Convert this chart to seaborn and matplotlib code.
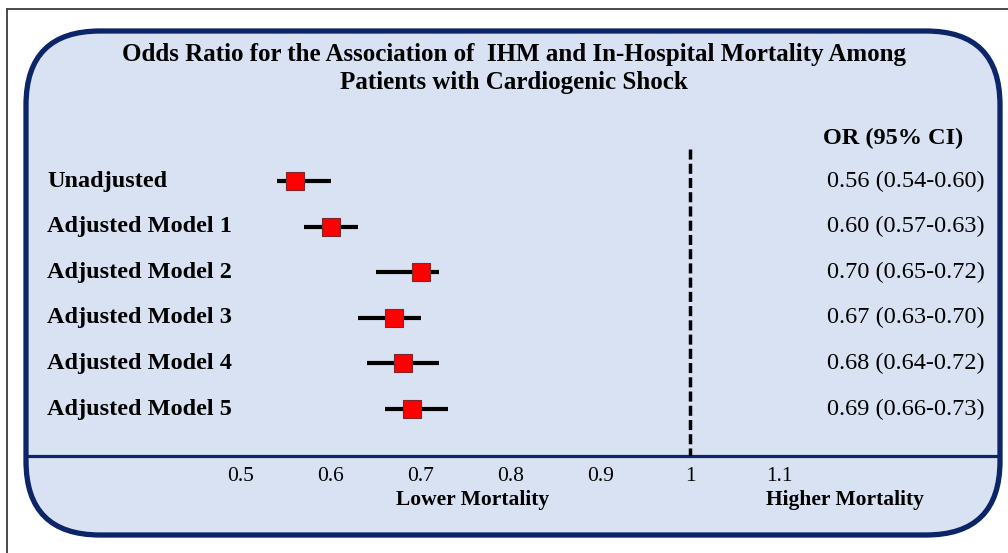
import numpy as np
import pandas as pd
import matplotlib
matplotlib.use("Agg")
import matplotlib.pyplot as plt
import matplotlib.transforms as mtransforms
from matplotlib.patches import FancyBboxPatch
import seaborn as sns

# data
models = ['Unadjusted', 'Adjusted Model 1', 'Adjusted Model 2',
          'Adjusted Model 3', 'Adjusted Model 4', 'Adjusted Model 5']
odds_ratio = [0.56, 0.60, 0.70, 0.67, 0.68, 0.69]
ci_low = [0.54, 0.57, 0.65, 0.63, 0.64, 0.66]
ci_high = [0.60, 0.63, 0.72, 0.70, 0.72, 0.73]
xticks = [0.5, 0.6, 0.7, 0.8, 0.9, 1.0, 1.1]
xtick_labels = ['0.5', '0.6', '0.7', '0.8', '0.9', '1', '1.1']
title_lines = ['Odds Ratio for the Association of  IHM and In-Hospital Mortality Among',
               'Patients with Cardiogenic Shock']

sns.set_style("white")
plt.rcParams['font.family'] = ['Liberation Serif', 'DejaVu Serif']
plt.rcParams['text.color'] = 'black'
plt.rcParams['xtick.color'] = 'black'

W, H = 1008, 553
fig = plt.figure(figsize=(W / 100, H / 100), dpi=100)
fig.patch.set_facecolor('white')

NAVY = '#0c2468'
FILL = '#d9e2f3'

# background axes in pixel units
bg = fig.add_axes([0, 0, 1, 1])
bg.set_xlim(0, W)
bg.set_ylim(H, 0)
bg.axis('off')
bg.plot([7, 7], [9, H], color='#3c3c3c', lw=1.3)
bg.plot([7, W], [9, 9], color='#3c3c3c', lw=1.3)
box = FancyBboxPatch((26, 31), 974, 504, boxstyle="round,pad=0,rounding_size=74",
                     facecolor=FILL, edgecolor=NAVY, lw=3.8)
bg.add_patch(box)
bg.plot([28, 998], [456, 456], color=NAVY, lw=2.3)

for i, line in enumerate(title_lines):
    bg.text(514, 54 + i * 29, line, ha='center', va='center',
            fontsize=18, fontweight='bold')
bg.text(893, 138, 'OR (95% CI)', ha='center', va='center',
        fontsize=17.5, fontweight='bold')
bg.text(473, 500, 'Lower Mortality', ha='center', va='center',
        fontsize=15.5, fontweight='bold')
bg.text(845, 500, 'Higher Mortality', ha='center', va='center',
        fontsize=15.5, fontweight='bold')

# forest plot axes
left, right, top, bottom = 29, 997, 140, 456
ax = fig.add_axes([left / W, (H - bottom) / H, (right - left) / W, (bottom - top) / H])
ax.set_facecolor('none')
scale = 898.0
x0 = 0.5 - (241 - left) / scale
x1 = 0.5 + (right - 241) / scale
ax.set_xlim(x0, x1)
step = 45.6
ax.set_ylim(5 + (bottom - 409) / step, -(181 - top) / step)

df = pd.DataFrame({'model': models, 'or': odds_ratio, 'lo': ci_low,
                   'hi': ci_high, 'row': np.arange(len(models))})

ax.hlines(df['row'], df['lo'], df['hi'], color='black', lw=3, zorder=2)
sns.scatterplot(data=df, x='or', y='row', marker='s', s=150, color='#ff0000',
                edgecolor='#7a2a2a', linewidth=0.8, zorder=3, ax=ax, legend=False)
ax.vlines(1.0, -(181 - 149) / step, 5 + (bottom - 409) / step, color='black',
          lw=2.5, linestyles=[(0, (2.9, 1.2))], zorder=1)

lab_tr = mtransforms.blended_transform_factory(bg.transData, ax.transData)
for i, r in df.iterrows():
    ax.text(47, r['row'], r['model'], transform=lab_tr, ha='left', va='center',
            fontsize=17.5, fontweight='bold')
    ax.text(906, r['row'], f"{r['or']:.2f} ({r['lo']:.2f}-{r['hi']:.2f})",
            transform=lab_tr, ha='center', va='center', fontsize=17.5)

ax.set_xticks(xticks)
ax.set_xticklabels(xtick_labels, fontsize=15.5)
ax.set_yticks([])
ax.tick_params(axis='x', length=0, pad=8)
ax.set_xlabel('')
ax.set_ylabel('')
for sp in ax.spines.values():
    sp.set_visible(False)

fig.savefig('out.png', dpi=100)
